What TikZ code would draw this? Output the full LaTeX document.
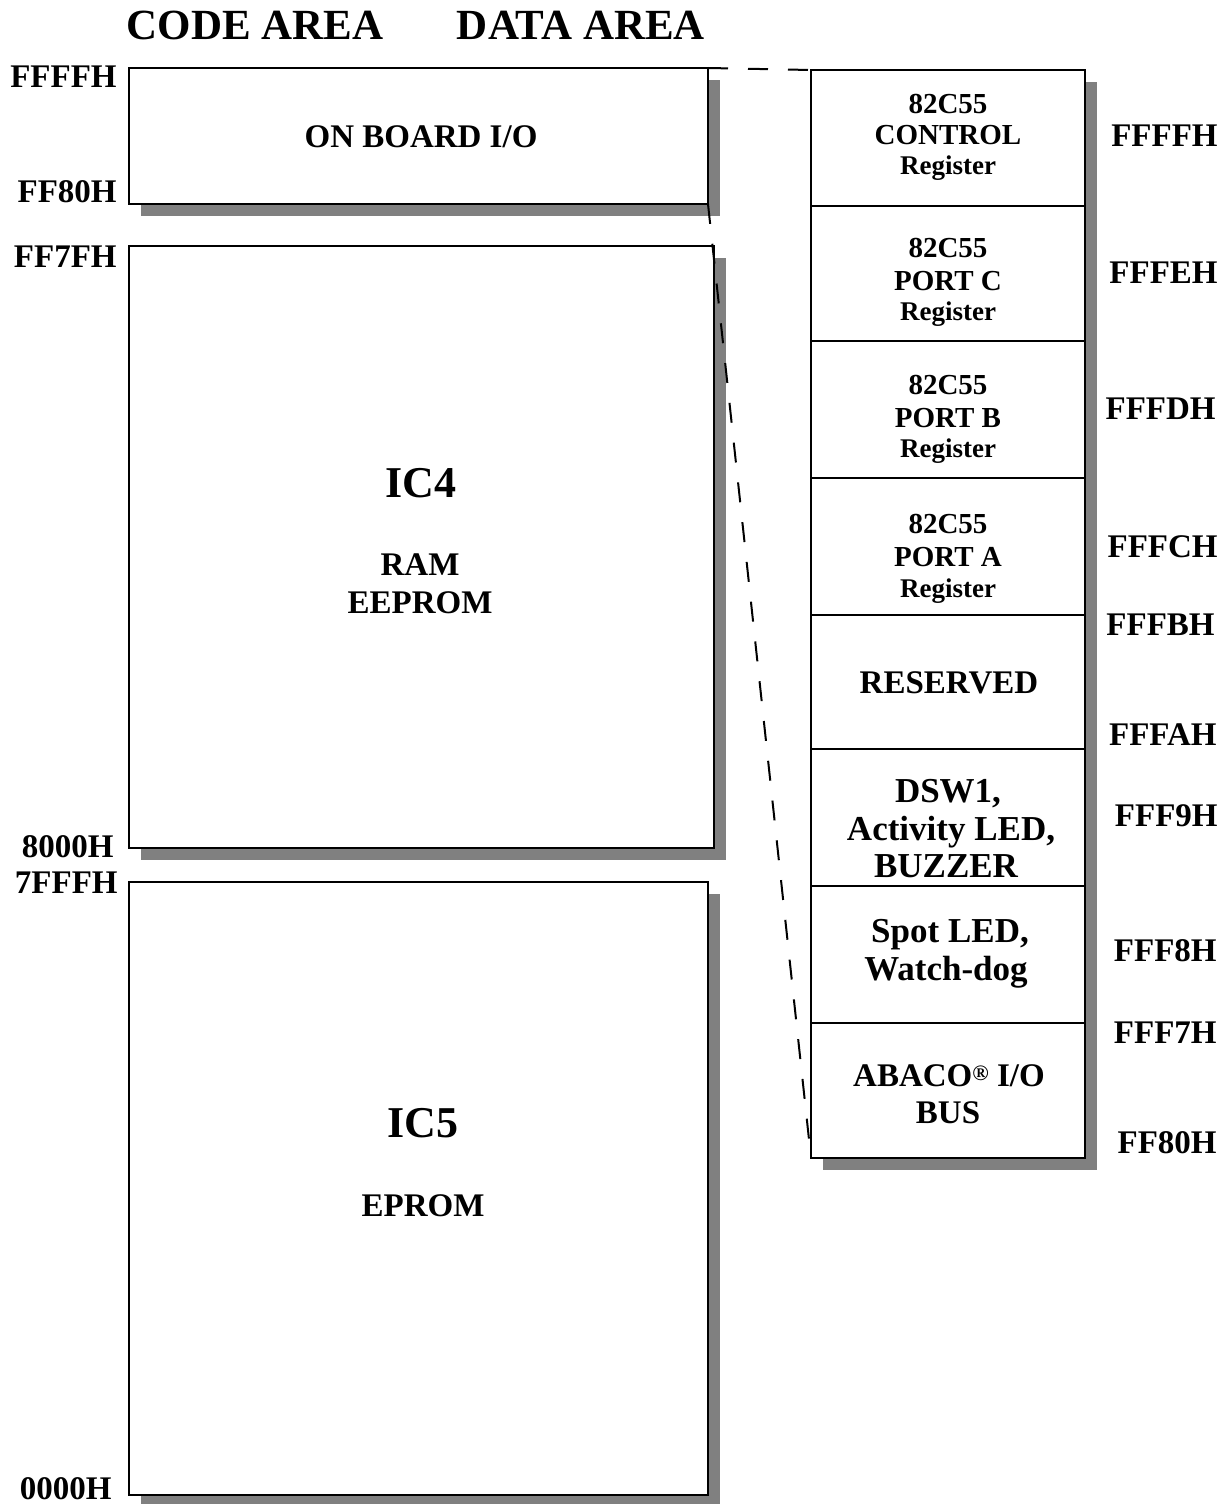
\documentclass[tikz,border=0pt]{standalone}
\usepackage{fontspec}
\setmainfont{Liberation Serif}
\usepackage{tikz}
\usetikzlibrary{positioning,shadows}
\definecolor{shadowgray}{RGB}{128,128,128}
\newcommand\titlefont{\fontsize{21.5}{24}\selectfont\bfseries}
\newcommand\addrfont{\fontsize{16.5}{18}\selectfont\bfseries}
\newcommand\chipfont{\fontsize{22}{24}\selectfont\bfseries}
\newcommand\regfont{\fontsize{14.5}{16}\selectfont\bfseries}
\newcommand\smallregfont{\fontsize{13.5}{15}\selectfont\bfseries}
\newcommand\cellfont{\fontsize{17.5}{19}\selectfont\bfseries}

\begin{document}
\begin{tikzpicture}[
  x=0.5pt, y=-0.5pt,
  membox/.style={draw, line width=1pt, fill=white, inner sep=0pt, outer sep=0pt, anchor=north west,
    drop shadow={shadow xshift=6pt, shadow yshift=-6pt, fill=shadowgray, opacity=1}},
  cell/.style={draw, line width=1pt, fill=white, inner sep=0pt, outer sep=0pt, minimum width=137pt},
  addr/.style={anchor=base east, inner sep=0pt, font=\addrfont},
  txt/.style={anchor=base, inner sep=0pt, font=\addrfont},
  link/.style={line width=1pt, dash pattern=on 10pt off 10pt}
]
\useasboundingbox (0,0) rectangle (1228,1504);

% titles
\node[txt, font=\titlefont] (code) at (255,40) {CODE AREA};
\node[txt, font=\titlefont] (data) at (581,40) {DATA AREA};

% code area blocks
\node[membox, minimum width=289.5pt, minimum height=68pt] (onboard) at (129,68) {};
\node[membox, minimum width=292.5pt, minimum height=301pt] (ic4) at (129,246) {};
\node[membox, minimum width=289.5pt, minimum height=306.5pt] (ic5) at (129,882) {};

\node[txt] (onboardtxt) at (421,148) {ON BOARD I/O};
\node[txt, font=\chipfont] (ic4name) at (421,497) {IC4};
\node[txt] (ram) at (420,575) {RAM};
\node[txt] (eeprom) at (420,613) {EEPROM};
\node[txt, font=\chipfont] (ic5name) at (423,1137) {IC5};
\node[txt] (eprom) at (423,1216) {EPROM};

% left addresses
\node[addr] (a1) at (117,88) {FFFFH};
\node[addr] (a2) at (117,202) {FF80H};
\node[addr] (a3) at (117,267) {FF7FH};
\node[addr] (a4) at (114,857) {8000H};
\node[addr] (a5) at (118,893) {7FFFH};
\node[addr] (a6) at (112,1499) {0000H};

% on board I/O detail
\node[membox, minimum width=137pt, minimum height=544pt] (col) at (811,70) {};
\node[cell, anchor=north west, minimum height=68pt] (c1) at (811,70) {};
\node[cell, minimum height=67.5pt, below=0pt of c1] (c2) {};
\node[cell, minimum height=68.5pt, below=0pt of c2] (c3) {};
\node[cell, minimum height=68.5pt, below=0pt of c3] (c4) {};
\node[cell, minimum height=67pt, below=0pt of c4] (c5) {};
\node[cell, minimum height=68.5pt, below=0pt of c5] (c6) {};
\node[cell, minimum height=68.5pt, below=0pt of c6] (c7) {};
\node[cell, minimum height=67.5pt, below=0pt of c7] (c8) {};

\node[txt, font=\regfont] (c1a) at (948,114) {82C55};
\node[txt, font=\regfont] (c1b) at (948,145) {CONTROL};
\node[txt, font=\smallregfont] (c1c) at (948,175) {Register};
\node[txt, font=\regfont] (c2a) at (948,257) {82C55};
\node[txt, font=\regfont] (c2b) at (948,290) {PORT C};
\node[txt, font=\smallregfont] (c2c) at (948,320) {Register};
\node[txt, font=\regfont] (c3a) at (948,394) {82C55};
\node[txt, font=\regfont] (c3b) at (948,427) {PORT B};
\node[txt, font=\smallregfont] (c3c) at (948,457) {Register};
\node[txt, font=\regfont] (c4a) at (948,533) {82C55};
\node[txt, font=\regfont] (c4b) at (948,566) {PORT A};
\node[txt, font=\smallregfont] (c4c) at (948,597) {Register};
\node[txt] (c5a) at (949,693) {RESERVED};
\node[txt, font=\cellfont] (c6a) at (948,802) {DSW1,};
\node[txt, font=\cellfont] (c6b) at (951,840) {Activity LED,};
\node[txt, font=\cellfont] (c6c) at (946,877) {BUZZER};
\node[txt, font=\cellfont] (c7a) at (950,942) {Spot LED,};
\node[txt, font=\cellfont] (c7b) at (946,980) {Watch-dog};
\node[txt] (c8a) at (949,1086) {ABACO{\fontsize{11}{11}\selectfont\raisebox{3pt}{®}} I/O};
\node[txt] (c8b) at (948,1123) {BUS};

% right addresses
\node[addr] (r1) at (1218,147) {FFFFH};
\node[addr] (r2) at (1218,283) {FFFEH};
\node[addr] (r3) at (1216,419) {FFFDH};
\node[addr] (r4) at (1218,557) {FFFCH};
\node[addr] (r5) at (1215,635) {FFFBH};
\node[addr] (r6) at (1217,745) {FFFAH};
\node[addr] (r7) at (1218,826) {FFF9H};
\node[addr] (r8) at (1217,961) {FFF8H};
\node[addr] (r9) at (1217,1043) {FFF7H};
\node[addr] (r10) at (1217,1153) {FF80H};

% zoom lines
\draw[link] (onboard.north east) -- (col.north west);
\draw[link, shorten >=7pt] (onboard.south east) -- (col.south west);
\end{tikzpicture}
\end{document}
